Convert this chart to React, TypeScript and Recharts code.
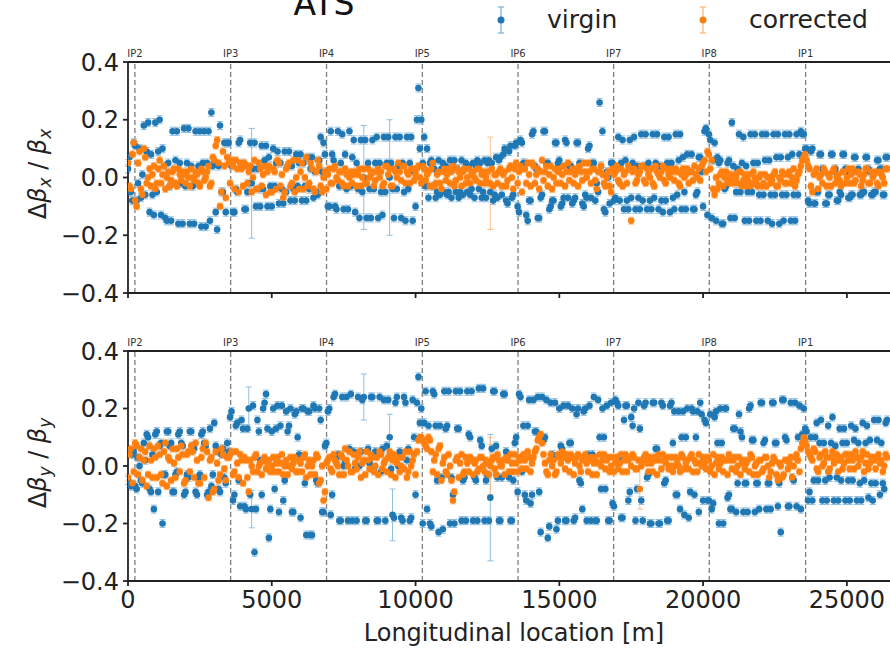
import { ScatterChart, Scatter, XAxis, YAxis, ErrorBar, ReferenceLine, Legend } from 'recharts'

// BPM positions along the ring [m], first and second BPM of each half cell
const bpmS = [
  0, 100, 200, 300, 400, 500, 600, 700, 800, 900,
  1000, 1100, 1200, 1300, 1400, 1500, 1600, 1700, 1800, 1900,
  2000, 2100, 2200, 2300, 2400, 2500, 2600, 2700, 2800, 2900,
  3000, 3100, 3200, 3300, 3400, 3500, 3600, 3700, 3800, 3900,
  4000, 4100, 4200, 4300, 4400, 4500, 4600, 4700, 4800, 4900,
  5000, 5100, 5200, 5300, 5400, 5500, 5600, 5700, 5800, 5900,
  6000, 6100, 6200, 6300, 6400, 6500, 6600, 6700, 6800, 6900,
  7000, 7100, 7200, 7300, 7400, 7500, 7600, 7700, 7800, 7900,
  8000, 8100, 8200, 8300, 8400, 8500, 8600, 8700, 8800, 8900,
  9000, 9100, 9200, 9300, 9400, 9500, 9600, 9700, 9800, 9900,
  10000, 10100, 10200, 10300, 10400, 10500, 10600, 10700, 10800, 10900,
  11000, 11100, 11200, 11300, 11400, 11500, 11600, 11700, 11800, 11900,
  12000, 12100, 12200, 12300, 12400, 12500, 12600, 12700, 12800, 12900,
  13000, 13100, 13200, 13300, 13400, 13500, 13600, 13700, 13800, 13900,
  14000, 14100, 14200, 14300, 14400, 14500, 14600, 14700, 14800, 14900,
  15000, 15100, 15200, 15300, 15400, 15500, 15600, 15700, 15800, 15900,
  16000, 16100, 16200, 16300, 16400, 16500, 16600, 16700, 16800, 16900,
  17000, 17100, 17200, 17300, 17400, 17500, 17600, 17700, 17800, 17900,
  18000, 18100, 18200, 18300, 18400, 18500, 18600, 18700, 18800, 18900,
  19000, 19100, 19200, 19300, 19400, 19500, 19600, 19700, 19800, 19900,
  20000, 20100, 20200, 20300, 20400, 20500, 20600, 20700, 20800, 20900,
  21000, 21100, 21200, 21300, 21400, 21500, 21600, 21700, 21800, 21900,
  22000, 22100, 22200, 22300, 22400, 22500, 22600, 22700, 22800, 22900,
  23000, 23100, 23200, 23300, 23400, 23500, 23600, 23700, 23800, 23900,
  24000, 24100, 24200, 24300, 24400, 24500, 24600, 24700, 24800, 24900,
  25000, 25100, 25200, 25300, 25400, 25500, 25600, 25700, 25800, 25900,
  26000, 26100, 26200, 26300, 26400,
]
const bpmS2 = [
  50, 150, 250, 350, 450, 550, 650, 750, 850, 950,
  1050, 1150, 1250, 1350, 1450, 1550, 1650, 1750, 1850, 1950,
  2050, 2150, 2250, 2350, 2450, 2550, 2650, 2750, 2850, 2950,
  3050, 3150, 3250, 3350, 3450, 3550, 3650, 3750, 3850, 3950,
  4050, 4150, 4250, 4350, 4450, 4550, 4650, 4750, 4850, 4950,
  5050, 5150, 5250, 5350, 5450, 5550, 5650, 5750, 5850, 5950,
  6050, 6150, 6250, 6350, 6450, 6550, 6650, 6750, 6850, 6950,
  7050, 7150, 7250, 7350, 7450, 7550, 7650, 7750, 7850, 7950,
  8050, 8150, 8250, 8350, 8450, 8550, 8650, 8750, 8850, 8950,
  9050, 9150, 9250, 9350, 9450, 9550, 9650, 9750, 9850, 9950,
  10050, 10150, 10250, 10350, 10450, 10550, 10650, 10750, 10850, 10950,
  11050, 11150, 11250, 11350, 11450, 11550, 11650, 11750, 11850, 11950,
  12050, 12150, 12250, 12350, 12450, 12550, 12650, 12750, 12850, 12950,
  13050, 13150, 13250, 13350, 13450, 13550, 13650, 13750, 13850, 13950,
  14050, 14150, 14250, 14350, 14450, 14550, 14650, 14750, 14850, 14950,
  15050, 15150, 15250, 15350, 15450, 15550, 15650, 15750, 15850, 15950,
  16050, 16150, 16250, 16350, 16450, 16550, 16650, 16750, 16850, 16950,
  17050, 17150, 17250, 17350, 17450, 17550, 17650, 17750, 17850, 17950,
  18050, 18150, 18250, 18350, 18450, 18550, 18650, 18750, 18850, 18950,
  19050, 19150, 19250, 19350, 19450, 19550, 19650, 19750, 19850, 19950,
  20050, 20150, 20250, 20350, 20450, 20550, 20650, 20750, 20850, 20950,
  21050, 21150, 21250, 21350, 21450, 21550, 21650, 21750, 21850, 21950,
  22050, 22150, 22250, 22350, 22450, 22550, 22650, 22750, 22850, 22950,
  23050, 23150, 23250, 23350, 23450, 23550, 23650, 23750, 23850, 23950,
  24050, 24150, 24250, 24350, 24450, 24550, 24650, 24750, 24850, 24950,
  25050, 25150, 25250, 25350, 25450, 25550, 25650, 25750, 25850, 25950,
  26050, 26150, 26250, 26350,
]

const ipNames = ['IP2', 'IP3', 'IP4', 'IP5', 'IP6', 'IP7', 'IP8', 'IP1']
const ipS = [240, 3570, 6905, 10235, 13565, 16890, 20215, 23565]

const xTicks = [0, 5000, 10000, 15000, 20000, 25000]
const yTicks = [-0.4, -0.2, 0, 0.2, 0.4]

// horizontal beta-beating at bpmS
const virginX = [
  0.03, -0.05, 0.12, -0.08, 0.10, 0.01, -0.06, 0.19, 0.08, -0.13,
  -0.05, 0.20, 0.10, -0.14, 0.05, -0.15, -0.02, 0.16, 0.05, -0.16,
  -0.03, 0.17, 0.04, -0.16, -0.02, 0.16, 0.05, -0.17, 0.16, 0.225,
  0.05, -0.18, 0.18, -0.05, -0.12, 0.12, 0.04, -0.12, -0.05, 0.13,
  0.05, -0.11, -0.02, -0.02, 0.12, 0.03, -0.10, -0.04, 0.11, 0.07,
  -0.10, -0.03, 0.09, 0.05, -0.09, -0.05, 0.09, 0.04, -0.08, -0.03,
  0.08, 0.05, -0.08, -0.04, 0.07, 0.02, -0.06, 0.14, 0.12, 0.02,
  -0.10, 0.08, -0.10, 0.16, 0.05, -0.11, -0.04, 0.16, 0.07, -0.12,
  -0.04, 0.13, 0.00, -0.14, -0.04, 0.13, 0.05, -0.14, -0.05, 0.14,
  0.05, 0.00, -0.04, 0.14, 0.04, -0.14, -0.05, 0.14, 0.05, -0.15,
  -0.10, 0.31, 0.20, 0.14, 0.10, 0.05, -0.03, -0.07, 0.06, 0.03,
  -0.05, -0.06, 0.06, 0.04, -0.05, -0.07, 0.06, 0.03, -0.05, -0.06,
  0.05, 0.04, -0.04, -0.07, 0.06, 0.05, -0.05, -0.08, 0.07, 0.06,
  -0.06, 0.10, -0.09, 0.11, -0.06, 0.12, -0.12, 0.12, 0.05, -0.15,
  -0.08, 0.16, 0.03, -0.14, -0.06, 0.16, 0.05, -0.10, -0.08, 0.12,
  0.06, -0.09, 0.13, -0.07, 0.04, -0.08, 0.12, 0.05, -0.09, -0.06,
  0.10, -0.07, 0.05, -0.02, 0.26, 0.16, -0.12, 0.00, 0.05, -0.08,
  0.03, -0.08, 0.13, 0.06, -0.11, -0.07, 0.14, 0.04, -0.11, -0.08,
  0.15, 0.05, -0.11, -0.07, 0.15, 0.04, -0.12, -0.08, 0.14, 0.05,
  -0.11, -0.06, 0.15, 0.07, -0.11, 0.02, 0.08, -0.11, -0.05, 0.07,
  -0.10, 0.17, 0.15, -0.14, 0.12, 0.07, 0.06, -0.16, -0.03, 0.06,
  0.19, -0.14, 0.03, -0.05, 0.14, 0.04, -0.15, -0.05, 0.15, 0.05,
  -0.15, -0.06, 0.15, 0.06, -0.16, -0.06, 0.15, 0.07, -0.15, -0.06,
  0.15, 0.08, -0.15, -0.06, 0.16, 0.15, 0.10, -0.09, 0.10, -0.09,
  -0.05, 0.08, 0.02, -0.09, -0.06, 0.08, 0.03, -0.08, -0.06, 0.08,
  0.02, -0.07, -0.06, 0.07, 0.03, -0.06, -0.05, 0.07, 0.02, -0.06,
  -0.05, 0.06, 0.03, -0.06, 0.07,
]
const virginX2 = [
  0.07, -0.08, 0.11, -0.02, -0.07, 0.18, 0.09, -0.12, -0.06, 0.19,
  0.09, -0.13, 0.04, -0.15, -0.03, 0.16, 0.06, -0.16, -0.02, 0.17,
  0.05, -0.16, -0.03, 0.16, 0.04, -0.17, 0.16, 0.05, -0.15, 0.04,
  -0.12, 0.04, -0.05, 0.12, 0.12, 0.05, -0.12, -0.04, 0.12, 0.04,
  -0.11, -0.05, 0.12, 0.03, -0.10, -0.04, 0.11, 0.06, -0.10, -0.03,
  0.10, 0.05, -0.09, -0.04, 0.09, 0.04, -0.08, -0.04, 0.08, 0.05,
  -0.08, -0.03, 0.07, 0.03, -0.07, -0.05, 0.06, 0.02, 0.08, -0.10,
  0.16, 0.06, -0.11, -0.03, 0.15, 0.08, -0.11, -0.03, 0.13, 0.05,
  -0.14, -0.05, 0.13, 0.05, -0.14, -0.04, 0.14, 0.05, -0.13, -0.05,
  0.14, 0.05, -0.14, -0.04, 0.14, 0.05, -0.15, -0.04, 0.14, 0.02,
  0.20, 0.10, 0.05, -0.03, -0.07, 0.06, 0.03, -0.05, -0.06, 0.05,
  0.04, -0.05, -0.07, 0.06, 0.03, -0.05, -0.06, 0.05, 0.04, -0.04,
  -0.07, 0.06, 0.05, -0.05, -0.07, 0.06, 0.05, -0.06, -0.07, 0.07,
  0.08, -0.08, 0.09, -0.07, 0.11, -0.10, 0.13, 0.05, -0.13, -0.08,
  0.15, 0.04, -0.14, -0.07, 0.16, 0.05, -0.11, -0.08, 0.12, 0.05,
  -0.10, -0.07, 0.12, 0.04, -0.09, -0.07, 0.12, 0.05, -0.10, -0.07,
  0.11, 0.05, -0.08, -0.05, 0.04, -0.11, 0.02, -0.09, 0.05, -0.07,
  0.14, 0.05, -0.11, -0.08, 0.13, 0.05, -0.11, -0.07, 0.15, 0.04,
  -0.11, -0.08, 0.15, 0.05, -0.11, -0.08, 0.14, 0.05, -0.12, -0.07,
  0.15, 0.06, -0.11, -0.05, 0.08, 0.02, -0.11, -0.06, 0.07, 0.02,
  0.16, -0.13, 0.13, 0.06, -0.15, 0.05, -0.16, -0.04, 0.05, -0.14,
  0.04, -0.05, 0.15, 0.05, -0.15, -0.05, 0.15, 0.05, -0.15, -0.06,
  0.15, 0.06, -0.15, -0.06, 0.15, 0.07, -0.16, -0.06, 0.15, 0.07,
  -0.15, -0.06, 0.15, 0.08, 0.15, 0.10, -0.08, 0.09, -0.09, -0.05,
  0.08, 0.03, -0.09, -0.06, 0.08, 0.02, -0.08, -0.05, 0.08, 0.03,
  -0.07, -0.06, 0.07, 0.02, -0.06, -0.05, 0.07, 0.03, -0.06, -0.05,
  0.06, 0.03, -0.06, 0.07,
]

const correctedX = [
  0.05, -0.04, 0.12, -0.10, 0.09, -0.06, 0.07, 0.00, -0.03, 0.04,
  -0.02, 0.06, 0.01, -0.04, 0.02, -0.01, 0.03, -0.03, 0.01, 0.02,
  -0.02, 0.00, 0.03, -0.01, 0.01, -0.03, 0.02, 0.00, 0.04, -0.02,
  0.06, 0.13, -0.10, 0.09, -0.07, 0.05, 0.06, -0.04, 0.03, 0.05,
  -0.03, 0.04, 0.02, -0.05, 0.06, -0.04, 0.03, 0.01, -0.06, 0.04,
  -0.05, 0.02, 0.06, -0.03, -0.07, 0.03, 0.05, -0.02, -0.05, 0.06,
  0.02, -0.04, 0.07, -0.02, 0.03, -0.05, 0.06, -0.03, 0.00, -0.04,
  0.03, -0.02, 0.04, -0.01, 0.02, -0.03, 0.01, 0.00, -0.02, 0.02,
  0.01, -0.03, 0.03, -0.02, 0.00, 0.02, -0.01, 0.03, 0.02, -0.02,
  0.04, 0.03, -0.03, 0.02, 0.05, -0.01, 0.04, 0.02, -0.02, 0.03,
  0.01, 0.04, -0.02, 0.03, 0.01, -0.03, 0.05, -0.02, 0.02, -0.04,
  0.03, 0.01, -0.02, 0.04, -0.01, 0.02, -0.03, 0.03, 0.00, -0.02,
  0.02, -0.01, 0.03, 0.01, -0.02, 0.02, -0.02, -0.03, 0.01, 0.02,
  -0.03, 0.02, -0.01, 0.04, -0.04, 0.05, 0.02, -0.05, 0.03, 0.05,
  -0.03, 0.04, 0.01, -0.04, 0.06, 0.02, -0.03, 0.04, 0.00, -0.02,
  0.03, 0.01, -0.03, 0.05, 0.02, -0.02, 0.03, 0.04, -0.01, 0.02,
  0.05, -0.02, 0.03, -0.04, 0.02, 0.01, -0.03, 0.02, -0.05, 0.01,
  0.04, -0.02, -0.03, 0.02, 0.04, -0.15, 0.03, -0.01, 0.02, 0.04,
  -0.02, 0.01, 0.03, -0.03, 0.02, 0.00, 0.04, -0.02, 0.01, 0.03,
  -0.01, 0.02, -0.03, 0.03, 0.01, -0.02, 0.02, 0.04, 0.00, -0.01,
  0.05, 0.02, 0.08, 0.06, -0.06, -0.04, 0.01, -0.03, 0.02, -0.02,
  0.00, 0.01, -0.02, 0.02, -0.01, -0.03, 0.01, -0.02, 0.00, -0.03,
  0.01, -0.02, -0.03, 0.00, -0.01, 0.02, -0.03, -0.01, 0.01, -0.02,
  0.02, 0.00, -0.03, 0.01, 0.04, 0.07, 0.06, 0.03, -0.05, 0.02,
  -0.04, 0.01, 0.03, -0.03, 0.00, 0.02, -0.02, 0.01, -0.03, 0.02,
  0.00, -0.02, 0.03, -0.01, 0.02, -0.03, 0.01, 0.03, -0.02, 0.00,
  0.02, -0.03, 0.01, -0.02, 0.03,
]
const correctedX2 = [
  -0.03, 0.08, -0.08, 0.05, -0.04, 0.10, -0.02, 0.03, 0.01, -0.04,
  0.03, -0.02, 0.04, 0.00, -0.03, 0.02, -0.02, 0.03, -0.01, 0.01,
  0.02, -0.03, 0.00, 0.02, -0.02, 0.03, -0.01, 0.02, -0.03, 0.07,
  0.11, 0.05, -0.05, 0.04, 0.07, -0.02, 0.04, 0.06, -0.05, 0.03,
  0.05, -0.02, 0.04, 0.00, -0.04, 0.05, -0.03, 0.04, 0.02, -0.05,
  0.03, -0.04, 0.05, 0.01, -0.05, 0.04, -0.03, 0.06, 0.00, -0.04,
  0.05, 0.00, -0.03, 0.05, -0.04, 0.02, 0.04, -0.05, 0.02, 0.01,
  -0.02, 0.03, 0.00, 0.02, -0.02, 0.03, -0.03, 0.02, 0.01, -0.03,
  0.03, 0.00, -0.02, 0.03, 0.01, -0.03, 0.02, 0.00, -0.03, 0.04,
  0.01, -0.03, 0.03, 0.00, 0.02, 0.04, -0.02, 0.01, 0.03, -0.01,
  0.03, 0.00, 0.04, -0.01, 0.02, 0.03, -0.03, 0.01, -0.02, 0.02,
  -0.01, 0.03, 0.02, -0.03, 0.03, 0.00, 0.02, -0.02, 0.03, 0.01,
  0.00, 0.03, -0.02, 0.02, 0.00, -0.02, 0.03, 0.01, -0.02, 0.03,
  0.01, -0.03, 0.03, 0.00, 0.03, -0.02, 0.04, 0.03, -0.02, 0.01,
  0.05, -0.02, 0.03, 0.02, -0.01, 0.04, 0.01, -0.04, 0.03, 0.02,
  -0.02, 0.04, 0.02, -0.01, 0.03, 0.01, -0.03, 0.02, 0.05, 0.00,
  0.02, 0.03, -0.01, 0.02, 0.04, -0.02, 0.00, -0.03, 0.03, 0.02,
  -0.01, 0.03, 0.01, -0.02, 0.03, 0.02, -0.02, 0.01, 0.04, -0.01,
  0.03, 0.00, -0.02, 0.04, 0.01, 0.02, -0.01, 0.03, 0.00, 0.02,
  0.03, -0.02, 0.01, 0.00, 0.03, 0.02, -0.01, 0.01, 0.03, 0.04,
  0.06, 0.09, 0.03, -0.04, 0.00, -0.02, 0.02, 0.00, -0.01, 0.01,
  -0.02, 0.00, 0.02, -0.03, 0.01, -0.01, -0.03, 0.02, -0.02, 0.00,
  -0.03, 0.01, 0.00, -0.02, 0.01, -0.03, 0.00, 0.02, -0.02, 0.01,
  -0.02, 0.03, -0.01, 0.02, 0.06, 0.08, 0.04, -0.03, 0.01, 0.03,
  0.00, -0.02, 0.02, 0.01, -0.03, 0.03, 0.00, -0.01, 0.02, -0.02,
  0.03, 0.01, -0.02, 0.02, 0.01, -0.01, 0.03, -0.02, 0.02, 0.01,
  -0.02, 0.02, 0.00, 0.03,
]

// vertical beta-beating at bpmS
const virginY = [
  -0.05, -0.07, 0.05, -0.08, 0.00, -0.06, 0.02, 0.10, -0.09, -0.15,
  0.12, 0.07, -0.20, -0.03, 0.12, 0.08, -0.09, -0.02, 0.12, 0.07,
  -0.09, -0.04, 0.12, 0.06, -0.10, -0.03, 0.12, 0.07, -0.09, -0.07,
  0.15, 0.05, -0.09, 0.06, -0.06, 0.05, 0.19, -0.10, 0.15, -0.14,
  0.13, -0.15, 0.20, -0.15, -0.30, 0.16, 0.02, 0.20, 0.25, -0.25,
  0.12, -0.08, 0.21, 0.14, -0.12, 0.19, 0.14, -0.16, 0.18, 0.10,
  -0.18, 0.20, -0.24, 0.19, -0.24, 0.20, -0.06, 0.16, -0.16, 0.08,
  0.20, -0.10, 0.25, 0.04, -0.19, 0.00, 0.24, 0.06, -0.19, -0.01,
  0.24, 0.05, 0.24, -0.19, 0.01, 0.24, 0.05, -0.19, -0.02, 0.23,
  0.07, 0.10, -0.17, 0.22, 0.00, -0.18, 0.24, 0.02, -0.19, 0.23,
  -0.10, 0.31, 0.20, 0.15, -0.15, -0.20, 0.26, 0.14, -0.23, -0.04,
  0.26, 0.14, -0.20, -0.10, 0.26, 0.13, -0.19, -0.04, 0.26, 0.10,
  -0.19, -0.05, 0.27, 0.07, -0.19, -0.03, -0.11, 0.26, 0.07, -0.19,
  -0.04, 0.25, 0.04, -0.19, -0.05, 0.10, 0.25, -0.02, -0.10, 0.14,
  -0.13, 0.23, 0.12, -0.09, 0.24, 0.10, -0.25, 0.22, 0.03, -0.22,
  0.20, 0.06, -0.19, 0.21, 0.08, -0.19, 0.18, -0.05, -0.15, 0.20,
  0.04, -0.19, 0.24, -0.19, 0.10, 0.20, -0.08, -0.19, 0.22, -0.14,
  0.22, 0.03, -0.18, 0.21, -0.12, 0.17, 0.20, -0.08, 0.13, -0.19,
  0.22, -0.03, -0.20, 0.22, 0.06, -0.20, 0.21, -0.05, -0.19, 0.22,
  0.19, -0.10, -0.15, 0.19, 0.10, -0.18, 0.20, -0.10, 0.19, 0.22,
  -0.12, 0.15, -0.12, -0.15, 0.17, 0.08, 0.20, -0.20, 0.20, -0.10,
  -0.15, 0.13, -0.06, 0.12, -0.16, -0.06, 0.20, 0.09, -0.16, -0.06,
  0.22, 0.08, -0.15, -0.06, 0.22, 0.08, -0.14, -0.23, 0.23, 0.09,
  -0.14, -0.04, 0.22, 0.10, -0.15, 0.20, 0.12, -0.09, -0.12, 0.10,
  -0.05, 0.16, 0.08, -0.12, -0.04, 0.17, 0.07, -0.12, -0.05, 0.13,
  0.08, -0.12, -0.05, 0.13, 0.08, -0.12, -0.05, 0.14, 0.09, -0.12,
  -0.06, 0.16, 0.08, -0.08, 0.16,
]
const virginY2 = [
  -0.06, 0.04, -0.07, 0.03, -0.05, 0.08, 0.11, -0.08, 0.04, 0.11,
  -0.09, 0.08, -0.03, 0.12, 0.07, -0.09, -0.03, 0.11, 0.08, -0.10,
  -0.03, 0.12, 0.07, -0.09, -0.04, 0.11, 0.08, -0.10, 0.13, -0.03,
  0.07, -0.08, 0.04, -0.04, 0.08, 0.17, -0.12, 0.14, -0.05, 0.16,
  -0.14, 0.13, -0.10, 0.21, -0.15, 0.12, -0.10, 0.22, 0.13, -0.15,
  0.20, 0.13, -0.16, 0.21, -0.05, 0.12, 0.20, -0.16, 0.19, 0.04,
  0.20, -0.06, 0.19, -0.24, 0.21, -0.05, 0.20, -0.16, 0.07, 0.19,
  -0.17, 0.24, 0.03, -0.19, 0.24, 0.01, -0.19, 0.25, 0.05, -0.19,
  0.00, 0.23, -0.19, 0.06, 0.24, -0.01, -0.19, 0.24, 0.06, -0.19,
  0.23, -0.01, -0.18, 0.24, 0.05, -0.19, 0.22, 0.06, -0.18, 0.10,
  0.22, 0.15, -0.20, 0.26, 0.14, -0.21, 0.25, -0.05, 0.14, -0.22,
  0.13, 0.26, -0.04, -0.20, 0.13, 0.26, -0.05, -0.19, 0.11, 0.26,
  -0.04, -0.19, 0.09, 0.27, -0.05, -0.19, 0.06, 0.26, -0.04, -0.19,
  0.25, 0.05, -0.04, -0.19, 0.08, -0.09, 0.24, 0.14, -0.12, 0.23,
  -0.10, 0.12, 0.24, -0.23, 0.09, 0.23, -0.21, 0.04, 0.22, -0.19,
  0.07, 0.21, -0.19, 0.08, 0.20, -0.18, 0.20, -0.06, 0.19, -0.19,
  0.21, 0.04, -0.19, 0.23, -0.08, 0.10, 0.21, -0.19, -0.13, 0.23,
  0.21, -0.18, 0.16, 0.21, -0.09, 0.14, -0.19, 0.22, -0.12, 0.21,
  -0.04, -0.20, 0.22, 0.06, -0.20, 0.22, -0.06, -0.19, 0.21, 0.08,
  -0.10, 0.19, 0.10, -0.17, 0.20, -0.09, 0.19, 0.10, -0.16, 0.18,
  0.16, -0.12, 0.18, -0.13, 0.19, -0.20, 0.08, 0.20, -0.11, -0.15,
  0.13, -0.16, 0.18, 0.10, -0.06, -0.16, 0.21, 0.09, -0.06, -0.15,
  0.22, 0.09, -0.06, -0.15, 0.22, 0.08, -0.06, 0.23, 0.10, -0.14,
  0.22, -0.05, -0.14, 0.21, 0.11, 0.13, -0.12, 0.10, -0.05, 0.15,
  0.08, -0.12, -0.05, 0.14, 0.08, -0.12, -0.04, 0.13, 0.08, -0.12,
  -0.05, 0.14, 0.09, -0.12, -0.06, 0.15, 0.08, -0.11, -0.06, 0.16,
  0.09, -0.10, -0.06, 0.15,
]

const correctedY = [
  -0.04, 0.06, -0.02, 0.07, 0.03, -0.05, 0.05, -0.03, 0.02, 0.06,
  -0.04, 0.04, -0.06, 0.08, 0.03, -0.05, 0.01, 0.06, -0.02, 0.04,
  -0.05, 0.05, 0.07, -0.04, 0.02, -0.06, 0.06, 0.08, -0.11, 0.03,
  -0.08, 0.01, -0.03, 0.04, -0.05, 0.03, 0.05, -0.02, 0.01, 0.04,
  -0.06, 0.02, -0.09, 0.00, 0.03, -0.02, 0.01, 0.02, -0.01, 0.02,
  0.00, -0.02, 0.03, 0.01, -0.03, 0.02, 0.00, -0.01, 0.03, -0.02,
  0.01, 0.03, -0.04, 0.02, 0.00, -0.03, 0.03, -0.05, -0.12, 0.01,
  0.03, -0.02, 0.02, 0.00, 0.04, -0.03, 0.02, 0.05, -0.02, 0.01,
  0.03, -0.04, 0.02, 0.05, -0.01, 0.03, 0.00, -0.03, 0.04, 0.01,
  -0.02, 0.05, 0.02, -0.04, 0.03, 0.00, -0.01, -0.04, 0.05, 0.02,
  -0.03, 0.09, 0.10, 0.08, 0.06, 0.09, -0.02, 0.04, 0.06, -0.05,
  0.03, -0.03, 0.00, -0.12, 0.02, -0.04, 0.04, -0.02, 0.01, 0.03,
  -0.03, 0.02, -0.01, 0.03, -0.02, 0.01, 0.00, 0.03, -0.03, 0.02,
  0.00, -0.03, 0.02, 0.04, -0.02, 0.01, 0.03, -0.01, 0.02, 0.05,
  -0.02, 0.03, 0.06, 0.10, 0.08, 0.01, -0.03, 0.04, 0.02, -0.02,
  0.03, 0.05, -0.01, 0.02, 0.04, -0.03, 0.03, 0.00, 0.02, 0.04,
  -0.02, 0.03, 0.01, -0.03, 0.04, 0.02, -0.01, 0.03, 0.00, -0.02,
  0.03, 0.01, -0.02, 0.04, 0.02, 0.00, 0.03, -0.01, -0.08, 0.02,
  0.04, -0.02, 0.01, 0.03, -0.03, 0.02, 0.04, 0.01, -0.01, 0.03,
  0.00, 0.02, -0.02, 0.03, 0.01, -0.01, 0.04, 0.02, -0.02, 0.01,
  0.03, -0.01, 0.02, 0.00, -0.03, 0.03, 0.01, -0.02, 0.02, 0.04,
  -0.01, 0.03, 0.00, -0.03, 0.02, 0.01, -0.02, 0.03, 0.00, -0.03,
  0.02, -0.01, 0.03, -0.04, 0.01, 0.02, -0.05, 0.00, -0.03, 0.02,
  0.01, -0.04, 0.03, 0.02, 0.06, 0.10, 0.07, 0.04, 0.02, 0.05,
  -0.02, 0.04, 0.01, 0.03, -0.01, 0.05, 0.02, -0.02, 0.03, 0.01,
  0.04, -0.01, 0.02, 0.05, 0.00, 0.03, -0.02, 0.04, 0.01, 0.03,
  -0.01, 0.04, 0.02, 0.00, 0.03,
]
const correctedY2 = [
  0.04, -0.06, 0.08, -0.03, 0.06, 0.02, -0.07, 0.07, -0.04, 0.03,
  0.07, -0.03, 0.05, -0.07, 0.02, 0.06, -0.04, 0.03, 0.07, -0.06,
  0.04, -0.02, 0.05, 0.08, -0.06, 0.03, -0.04, 0.05, 0.02, -0.09,
  0.05, -0.05, 0.06, -0.01, 0.03, 0.04, -0.03, 0.05, -0.04, 0.02,
  0.03, -0.04, 0.02, -0.02, 0.04, 0.00, -0.03, 0.03, 0.01, -0.02,
  0.03, 0.01, -0.02, 0.04, 0.00, -0.03, 0.03, 0.01, -0.02, 0.02,
  -0.02, 0.04, 0.00, -0.03, 0.02, 0.04, -0.06, 0.00, -0.09, 0.02,
  -0.01, 0.04, 0.01, -0.03, 0.03, 0.06, 0.00, -0.02, 0.04, -0.01,
  0.05, 0.01, -0.03, 0.02, 0.04, -0.02, 0.03, 0.05, -0.01, 0.02,
  0.03, -0.03, 0.04, 0.01, -0.02, 0.03, 0.05, -0.02, 0.00, 0.04,
  0.05, 0.10, 0.09, 0.07, 0.10, 0.05, 0.02, -0.03, 0.07, 0.01,
  -0.02, 0.04, -0.05, -0.09, 0.03, 0.01, -0.03, 0.03, -0.02, 0.02,
  0.01, -0.02, 0.03, 0.00, 0.02, -0.03, 0.02, -0.01, 0.04, 0.00,
  0.02, 0.03, -0.02, 0.01, 0.04, -0.02, 0.02, 0.04, -0.01, 0.03,
  0.01, 0.05, 0.09, 0.11, 0.04, -0.02, 0.02, 0.00, -0.03, 0.04,
  0.01, 0.03, 0.04, -0.02, 0.03, 0.01, 0.04, -0.02, 0.03, 0.01,
  0.02, -0.03, 0.03, 0.01, 0.00, 0.04, 0.02, -0.02, 0.03, 0.01,
  -0.01, 0.04, 0.02, -0.02, 0.03, 0.04, -0.01, 0.02, 0.00, 0.03,
  0.01, 0.03, -0.02, 0.02, 0.04, -0.01, 0.02, 0.03, 0.00, -0.02,
  0.03, 0.00, 0.04, -0.01, 0.02, 0.03, -0.02, 0.01, 0.04, 0.00,
  0.01, 0.03, -0.02, 0.04, 0.01, -0.01, 0.03, 0.02, -0.03, 0.02,
  0.02, -0.02, 0.03, 0.01, -0.01, 0.02, 0.04, -0.03, 0.01, 0.02,
  -0.02, 0.03, 0.00, -0.02, 0.03, -0.03, 0.01, -0.04, 0.02, -0.01,
  0.03, 0.00, 0.04, -0.02, 0.08, 0.09, 0.05, 0.03, 0.06, -0.01,
  0.03, 0.00, 0.05, -0.02, 0.03, 0.01, 0.04, 0.02, -0.01, 0.04,
  0.02, 0.04, -0.01, 0.03, 0.02, 0.05, 0.01, -0.01, 0.03, 0.02,
  0.03, 0.01, -0.02, 0.04,
]

// BPMs with large uncertainties: [s, error]
const virginXBigErr = [[4300, 0.19], [8200, 0.18], [9100, 0.2]]
const correctedXBigErr = [[12600, 0.16]]
const virginYBigErr = [[4200, 0.075], [4300, 0.065], [8200, 0.08], [9100, 0.08], [9200, 0.09], [12600, 0.22]]
const correctedYBigErr = [[12600, 0.1], [17800, 0.07]]

const BLUE = '#1f77b4'
const ORANGE = '#ff7f0e'
const BLUE_ERR = '#8fbedf'
const ORANGE_ERR = '#ffc08a'
const W = 890

function build(values: number[], values2: number[], bigErr: number[][], base: number) {
  const big = new Map(bigErr.map(([s, e]) => [s, e]))
  const a = bpmS.map((s, i) => ({ s, v: values[i], e: big.get(s) ?? base }))
  const b = bpmS2.map((s, i) => ({ s, v: values2[i], e: base }))
  return [...a, ...b]
}

const dot = (color: string) => (p: any) => <circle cx={p.cx} cy={p.cy} r={3.3} fill={color} />

const fmtY = (v: number) => (v < 0 ? '\u2212' : '') + Math.abs(v).toFixed(1)

function BetaLabel({ plane, cy }: { plane: string; cy: number }) {
  return (
    <text x={46} y={cy} transform={`rotate(-90 46 ${cy})`} textAnchor="middle" fontSize={24} fill="#222">
      Δ<tspan fontStyle="italic">β</tspan>
      <tspan fontSize={17} dy={5} fontStyle="italic">{plane}</tspan>
      <tspan dy={-5}> / </tspan>
      <tspan fontStyle="italic">β</tspan>
      <tspan fontSize={17} dy={5} fontStyle="italic">{plane}</tspan>
    </text>
  )
}

function LegendBox() {
  return (
    <svg width={400} height={40}>
      <line x1={21} x2={21} y1={7} y2={33} stroke={BLUE_ERR} strokeWidth={1.5} />
      <line x1={18} x2={24} y1={7} y2={7} stroke={BLUE_ERR} strokeWidth={1.5} />
      <line x1={18} x2={24} y1={33} y2={33} stroke={BLUE_ERR} strokeWidth={1.5} />
      <circle cx={21} cy={20} r={3.5} fill={BLUE} />
      <text x={67} y={28} fontSize={25} fill="#222">virgin</text>
      <line x1={223} x2={223} y1={7} y2={33} stroke={ORANGE_ERR} strokeWidth={1.5} />
      <line x1={220} x2={226} y1={7} y2={7} stroke={ORANGE_ERR} strokeWidth={1.5} />
      <line x1={220} x2={226} y1={33} y2={33} stroke={ORANGE_ERR} strokeWidth={1.5} />
      <circle cx={223} cy={20} r={3.5} fill={ORANGE} />
      <text x={269} y={28} fontSize={25} fill="#222">corrected</text>
    </svg>
  )
}

function Panel({ virgin, corrected, plane, top, height, marginTop, xAxisHeight, showLabels, labelCy, children }: any) {
  return (
    <div style={{ position: 'absolute', left: 0, top }}>
      <ScatterChart width={W} height={height} margin={{ top: marginTop, right: 0, bottom: 0, left: 0 }}
        style={{ fontFamily: 'DejaVu Sans, sans-serif' }}>
        <XAxis
          type="number" dataKey="s" domain={[0, 26500]} ticks={xTicks} allowDataOverflow
          height={xAxisHeight} stroke="#222" strokeWidth={1.8} tickSize={5} tickMargin={5}
          tick={{ fill: '#222', fontSize: 24 }}
          tickFormatter={v => (showLabels ? String(v) : '')}
          label={showLabels ? { value: 'Longitudinal location [m]', position: 'insideBottom', offset: 7, dx: 5, fontSize: 24, fill: '#222' } : undefined}
        />
        <YAxis
          type="number" dataKey="v" domain={[-0.4, 0.4]} ticks={yTicks} allowDataOverflow
          width={128} stroke="#222" strokeWidth={1.8} tickSize={5} tickMargin={4}
          tick={{ fill: '#222', fontSize: 24 }} tickFormatter={fmtY}
          label={<BetaLabel plane={plane} cy={labelCy} />}
        />
        <ReferenceLine y={0.4} stroke="#222" strokeWidth={1.8} />
        {ipS.map((s, i) => (
          <ReferenceLine key={ipNames[i]} x={s} stroke="#7f7f7f" strokeWidth={1.3} strokeDasharray="5 3"
            label={{ value: ipNames[i], position: 'top', offset: 5, fontSize: 10, fill: '#333' }} />
        ))}
        <Scatter name="virgin" data={virgin} dataKey="v" fill={BLUE} shape={dot(BLUE)} isAnimationActive={false}>
          <ErrorBar dataKey="e" direction="y" width={3} stroke={BLUE_ERR} strokeWidth={1} />
        </Scatter>
        <Scatter name="corrected" data={corrected} dataKey="v" fill={ORANGE} shape={dot(ORANGE)} isAnimationActive={false}>
          <ErrorBar dataKey="e" direction="y" width={3} stroke={ORANGE_ERR} strokeWidth={1} />
        </Scatter>
        {children}
      </ScatterChart>
    </div>
  )
}

export default function App() {
  const vx = build(virginX, virginX2, virginXBigErr, 0.014)
  const cx = build(correctedX, correctedX2, correctedXBigErr, 0.012)
  const vy = build(virginY, virginY2, virginYBigErr, 0.014)
  const cy = build(correctedY, correctedY2, correctedYBigErr, 0.012)
  return (
    <div style={{ position: 'absolute', left: 0, top: 0, width: W, height: 648, background: '#fff', overflow: 'hidden' }}>
      <Panel virgin={vx} corrected={cx} plane="x" top={0} height={310} marginTop={62} xAxisHeight={17}
        showLabels={false} labelCy={174}>
        <text x={324} y={15} textAnchor="middle" fontSize={33} fill="#111">ATS</text>
        <Legend layout="horizontal" verticalAlign="middle" align="center"
          wrapperStyle={{ top: 0, left: 480, width: 400, height: 40 }} content={() => <LegendBox />} />
      </Panel>
      <Panel virgin={vy} corrected={cy} plane="y" top={300} height={348} marginTop={51} xAxisHeight={67}
        showLabels labelCy={163} />
    </div>
  )
}
